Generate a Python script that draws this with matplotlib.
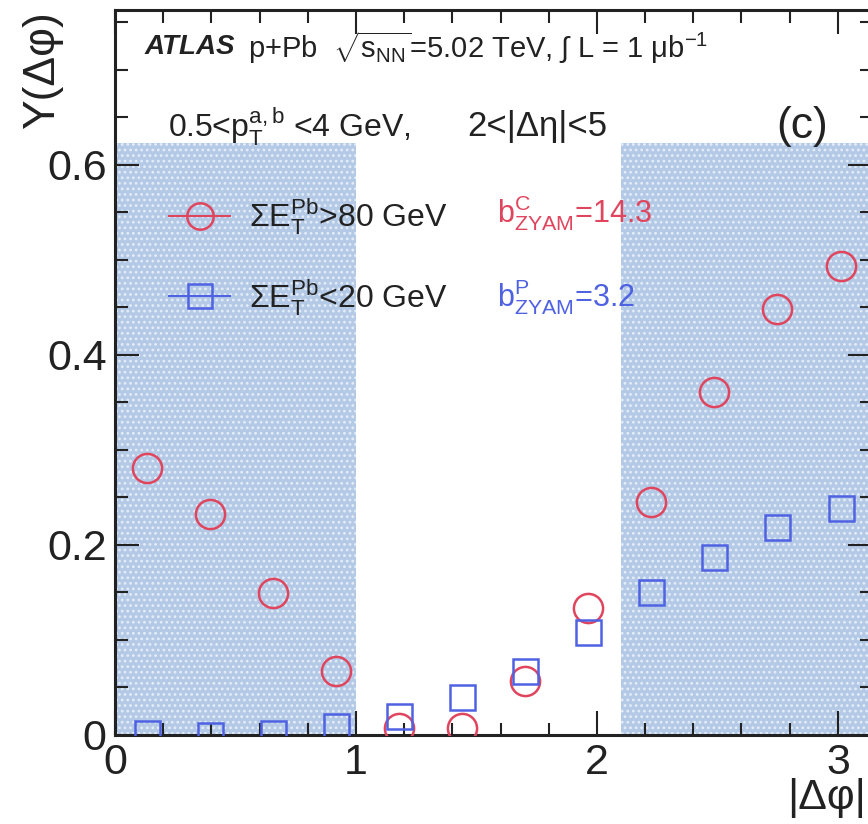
import matplotlib
matplotlib.use("Agg")
import matplotlib.pyplot as plt
from matplotlib.lines import Line2D
from matplotlib.ticker import MultipleLocator, FuncFormatter

plt.rcParams['font.family'] = ['Liberation Sans', 'DejaVu Sans']
plt.rcParams['mathtext.fontset'] = 'custom'
plt.rcParams['mathtext.rm'] = 'Liberation Sans'
plt.rcParams['mathtext.it'] = 'Liberation Sans:italic'
plt.rcParams['mathtext.bf'] = 'Liberation Sans:bold'
plt.rcParams['hatch.linewidth'] = 1.2

# |dphi| bin centres (12 bins from 0 to pi)
dphi = [0.131, 0.393, 0.654, 0.916, 1.178, 1.440, 1.702, 1.963, 2.225, 2.487, 2.749, 3.011]
# Y(dphi) for the two activity classes
y_central = [0.281, 0.233, 0.149, 0.067, 0.007, 0.007, 0.057, 0.134, 0.245, 0.361, 0.448, 0.494]
y_periph = [0.002, 0.000, 0.002, 0.009, 0.020, 0.040, 0.067, 0.108, 0.150, 0.187, 0.219, 0.239]

# shaded |dphi| ranges and their height
near_range = (0.0, 1.0)
away_range = (2.1, 3.1416)
band_top = 0.623

red = '#e0455e'
blue = '#4f62e2'
ink = '#222222'

fig = plt.figure(figsize=(8.68, 8.24), dpi=100)
ax = fig.add_axes([115 / 868, 89 / 824, 757 / 868, 725 / 824])

for lo, hi in (near_range, away_range):
    ax.fill_between([lo, hi], 0, band_top, facecolor='#b3c9e6', edgecolor='#e4edf8',
                    hatch='...', linewidth=0, zorder=0)

ax.plot(dphi, y_central, linestyle='none', marker='o', ms=21, mfc='none', mec=red, mew=1.8, zorder=3)
ax.plot(dphi, y_periph, linestyle='none', marker='s', ms=18, mfc='none', mec=blue, mew=1.8, zorder=3)

ax.set_xlim(0, 3.1416)
ax.set_ylim(0, 0.763)

ax.xaxis.set_major_locator(MultipleLocator(1))
ax.xaxis.set_minor_locator(MultipleLocator(0.2))
ax.yaxis.set_major_locator(MultipleLocator(0.2))
ax.yaxis.set_minor_locator(MultipleLocator(0.05))
ax.tick_params(which='both', direction='in', top=True, right=True, width=1.5, colors=ink,
               labelsize=31, labelcolor=ink)
ax.tick_params(which='major', length=17, pad=6)
ax.tick_params(which='minor', length=9)
ax.yaxis.set_major_formatter(FuncFormatter(lambda v, p: '0' if v == 0 else f'{v:.1f}'))
for s in ax.spines.values():
    s.set_linewidth(2.2)
    s.set_color(ink)

ax.set_ylabel('Y(Δφ)', fontsize=32, color=ink, ha='right', y=1.0)
ax.yaxis.set_label_coords(-0.068, 0.998)
ax.set_xlabel('|Δφ|', fontsize=31, color=ink, ha='right', labelpad=-3)
ax.xaxis.set_label_coords(0.992, -0.059)

ax.text(0.124, 0.724, 'ATLAS', fontsize=20, fontweight='bold', fontstyle='italic',
        color=ink, va='center')
ax.text(0.55, 0.724, r'p+Pb  $\sqrt{\mathrm{s}_{\mathrm{NN}}}$=5.02 TeV, $\int$ L = 1 μb$^{\mathrm{-1}}$',
        fontsize=21, color=ink, va='center')
ax.text(0.22, 0.640, r'0.5<p$_{\mathrm{T}}^{\mathrm{a,b}}$ <4 GeV,',
        fontsize=23, color=ink, va='center')
ax.text(1.46, 0.640, '2<|Δη|<5', fontsize=25, color=ink, va='center')
ax.text(2.85, 0.640, '(c)', fontsize=32, color=ink, va='center', ha='center')

handles = [
    Line2D([], [], color=red, marker='o', ms=19, mfc='none', mec=red, mew=1.8, lw=1.5),
    Line2D([], [], color=blue, marker='s', ms=17, mfc='none', mec=blue, mew=1.8, lw=1.5),
]
labels = [r'$\Sigma$E$_{\mathrm{T}}^{\mathrm{Pb}}$>80 GeV', r'$\Sigma$E$_{\mathrm{T}}^{\mathrm{Pb}}$<20 GeV']
ax.legend(handles, labels, loc='upper left', bbox_to_anchor=(0.055, 0.76), frameon=False,
          fontsize=23, handlelength=1.9, handletextpad=0.6, labelspacing=1.25, borderaxespad=0,
          labelcolor=ink)

ax.text(1.585, 0.549, r'b$^{\mathrm{C}}_{\mathrm{ZYAM}}$=14.3', fontsize=22, color=red, va='center')
ax.text(1.585, 0.461, r'b$^{\mathrm{P}}_{\mathrm{ZYAM}}$=3.2', fontsize=22, color=blue, va='center')

fig.savefig('out.png', dpi=100)
